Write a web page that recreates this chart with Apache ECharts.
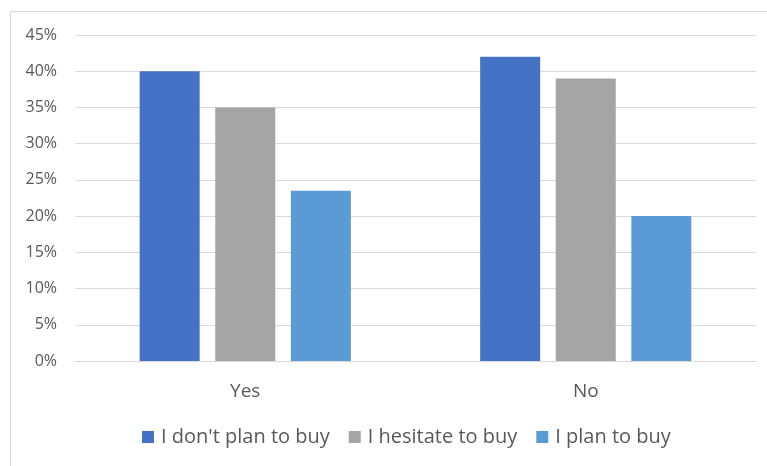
<!DOCTYPE html>
<html>
<head>
<meta charset="utf-8">
<script src="https://cdn.jsdelivr.net/npm/echarts@6/dist/echarts.min.js"></script>
<style>
  html, body { margin: 0; padding: 0; background: #fff; }
  #chart { width: 767px; height: 466px; }
</style>
</head>
<body>
<div id="chart"></div>
<script>
let categories = ['Yes', 'No'];
let seriesNames = ["I don't plan to buy", 'I hesitate to buy', 'I plan to buy'];
let dontPlan = [40, 42];
let hesitate = [35, 39];
let planBuy = [23.5, 20];
let colors = ['#4472c4', '#a5a5a5', '#5b9bd5'];

let textFont = "'Open Sans', 'Liberation Sans', sans-serif";
let chart = echarts.init(document.getElementById('chart'));

let makeSeries = (name, data, color) => ({
  name: name,
  type: 'bar',
  data: data,
  barWidth: 60,
  barGap: '26%',
  itemStyle: { color: color },
  emphasis: { disabled: true }
});

let option = {
  animation: false,
  color: colors,
  grid: { left: 75, right: 11, top: 35, bottom: 105 },
  graphic: [
    { type: 'line', shape: { x1: 10.5, y1: 11.5, x2: 767, y2: 11.5 }, style: { stroke: '#d9d9d9', lineWidth: 1 } },
    { type: 'line', shape: { x1: 10.5, y1: 11.5, x2: 10.5, y2: 466 }, style: { stroke: '#d9d9d9', lineWidth: 1 } }
  ],
  legend: {
    bottom: 14,
    left: 137,
    itemWidth: 12,
    itemHeight: 12,
    itemGap: 19,
    icon: 'rect',
    textStyle: { fontFamily: textFont, fontSize: 20, color: '#595959', padding: [0, 0, 0, 2] },
    data: seriesNames
  },
  xAxis: {
    type: 'category',
    data: categories,
    axisLine: { lineStyle: { color: '#d9d9d9', width: 1 } },
    axisTick: { show: false },
    axisLabel: { fontFamily: textFont, fontSize: 19, color: '#595959', margin: 21 }
  },
  yAxis: {
    type: 'value',
    min: 0,
    max: 45,
    interval: 5,
    axisLine: { show: false },
    axisTick: { show: false },
    splitLine: { lineStyle: { color: '#d9d9d9', width: 1 } },
    axisLabel: {
      fontFamily: textFont,
      fontSize: 16,
      color: '#595959',
      margin: 18,
      formatter: v => v + '%'
    }
  },
  series: [
    makeSeries(seriesNames[0], dontPlan, colors[0]),
    makeSeries(seriesNames[1], hesitate, colors[1]),
    makeSeries(seriesNames[2], planBuy, colors[2])
  ]
};

chart.setOption(option);
</script>
</body>
</html>
